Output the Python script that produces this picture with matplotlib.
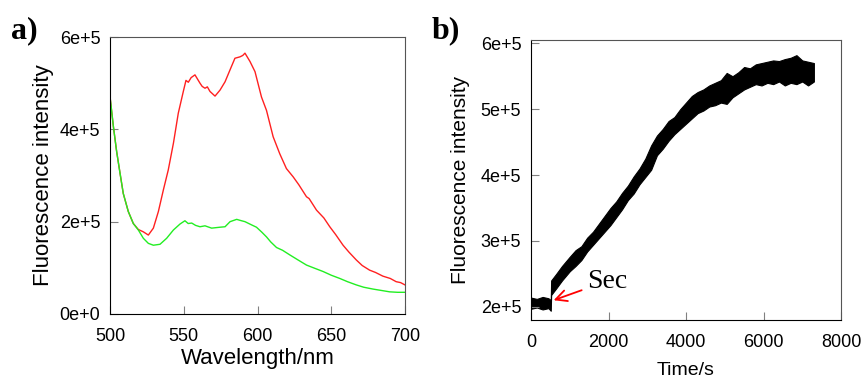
import matplotlib
matplotlib.use('Agg')
import matplotlib.pyplot as plt

# panel a: emission spectra -------------------------------
wl_red = [500, 502.3, 504.5, 506.8, 509, 512.4, 515.8, 519.2, 522.6, 526, 529.4, 532.8, 536.2,
          539.5, 543, 546.3, 549.7, 551.5, 553.1, 555, 557.6, 561, 562.5, 564.4, 566, 567.8,
          571.2, 574.6, 578, 581.4, 584.7, 588.1, 590, 591.5, 594.9, 598.3, 602.7, 606.1,
          610.6, 615.1, 619.6, 624.2, 628, 633.2, 635, 640, 645, 649, 653, 658, 662, 667,
          671, 676, 680, 685, 690, 694, 697, 700]
int_red = [4.71e5, 4.06e5, 3.52e5, 3.05e5, 2.61e5, 2.22e5, 1.96e5, 1.83e5, 1.78e5, 1.71e5,
           1.86e5, 2.22e5, 2.69e5, 3.12e5, 3.70e5, 4.35e5, 4.82e5, 5.06e5, 5.02e5, 5.12e5,
           5.18e5, 5.00e5, 4.93e5, 4.89e5, 4.92e5, 4.82e5, 4.72e5, 4.85e5, 5.03e5, 5.29e5,
           5.54e5, 5.57e5, 5.60e5, 5.65e5, 5.47e5, 5.25e5, 4.70e5, 4.41e5, 3.84e5, 3.47e5,
           3.15e5, 2.97e5, 2.80e5, 2.54e5, 2.50e5, 2.25e5, 2.08e5, 1.89e5, 1.72e5, 1.49e5,
           1.34e5, 1.17e5, 1.05e5, 0.95e5, 0.90e5, 0.82e5, 0.77e5, 0.70e5, 0.68e5, 0.63e5]

wl_green = [500, 502.3, 504.5, 506.8, 509, 512.4, 515.8, 519.2, 522.6, 526, 529.4, 533.9,
            538.4, 543, 547.5, 550.8, 553, 555.4, 558, 561, 564.4, 568.9, 574.6, 578, 581.4,
            585.9, 588, 591.5, 596, 599.3, 603, 606.1, 609, 612.9, 617, 621.9, 627, 633.2,
            638, 644.5, 650, 655.8, 661, 667, 672, 678.3, 684, 689.6, 695, 700]
int_green = [4.71e5, 4.06e5, 3.52e5, 3.05e5, 2.61e5, 2.22e5, 1.96e5, 1.82e5, 1.64e5, 1.53e5,
             1.49e5, 1.51e5, 1.64e5, 1.82e5, 1.95e5, 2.02e5, 1.96e5, 1.97e5, 1.92e5, 1.89e5,
             1.91e5, 1.86e5, 1.88e5, 1.89e5, 2.00e5, 2.05e5, 2.03e5, 2.00e5, 1.93e5, 1.88e5,
             1.77e5, 1.67e5, 1.56e5, 1.44e5, 1.38e5, 1.28e5, 1.18e5, 1.06e5, 1.00e5, 0.92e5,
             0.84e5, 0.77e5, 0.70e5, 0.63e5, 0.58e5, 0.54e5, 0.51e5, 0.48e5, 0.47e5, 0.47e5]

# panel b: time trace, lower and upper edge of the noisy band -------------
t_b = [0, 150, 300, 450, 510, 520, 650, 800, 1000, 1150, 1300, 1450, 1600, 1750, 1900, 2050,
       2200, 2350, 2500, 2650, 2800, 2950, 3100, 3250, 3400, 3550, 3700, 3850, 4000, 4150,
       4300, 4450, 4600, 4750, 4900, 5050, 5200, 5350, 5500, 5650, 5800, 5950, 6100, 6250,
       6400, 6550, 6700, 6850, 7000, 7150, 7300]
f_low = [1.97, 1.99, 1.96, 1.98, 1.94, 2.18, 2.28, 2.40, 2.54, 2.62, 2.71, 2.84, 2.94, 3.04,
         3.14, 3.24, 3.36, 3.48, 3.62, 3.72, 3.86, 3.97, 4.08, 4.30, 4.40, 4.52, 4.62, 4.70,
         4.78, 4.86, 4.94, 4.98, 5.04, 5.06, 5.10, 5.08, 5.18, 5.24, 5.30, 5.34, 5.38, 5.36,
         5.40, 5.38, 5.42, 5.36, 5.40, 5.38, 5.42, 5.36, 5.42]
f_high = [2.14, 2.12, 2.15, 2.13, 2.10, 2.40, 2.50, 2.62, 2.76, 2.86, 2.92, 3.05, 3.14, 3.26,
          3.38, 3.50, 3.60, 3.73, 3.84, 3.98, 4.10, 4.25, 4.45, 4.60, 4.70, 4.82, 4.88, 5.00,
          5.10, 5.20, 5.26, 5.30, 5.36, 5.40, 5.44, 5.55, 5.50, 5.56, 5.64, 5.62, 5.68, 5.70,
          5.72, 5.74, 5.73, 5.76, 5.78, 5.82, 5.74, 5.72, 5.70]

plt.rcParams['font.family'] = ['Liberation Sans', 'DejaVu Sans']

fig = plt.figure(figsize=(8.64, 3.81), dpi=100)
ax1 = fig.add_axes([110/864, 1-314/381, 295/864, 277/381])
ax2 = fig.add_axes([531/864, 1-320/381, 310/864, 280/381])

for ax in (ax1, ax2):
	ax.tick_params(direction='in', length=6, color='#808080', labelsize=13)
	ax.tick_params(axis='x', pad=10)
	ax.tick_params(axis='y', pad=7)
	ax.spines['top'].set_color('#555555')
	ax.spines['right'].set_color('#555555')

ax1.plot(wl_red, int_red, color='#ff2020', lw=1)
ax1.plot(wl_green, int_green, color='#22ee22', lw=1)
ax1.set_xlim(500, 700)
ax1.set_ylim(0, 6e5)
ax1.set_xticks([500, 550, 600, 650, 700])
ax1.set_yticks([0, 2e5, 4e5, 6e5])
ax1.set_yticklabels(['0e+0', '2e+5', '4e+5', '6e+5'])
ax1.set_xlabel('Wavelength/nm', fontsize=16, labelpad=2)
ax1.set_ylabel('Fluorescence intensity', fontsize=16)

ax2.fill_between(t_b, [v*1e5 for v in f_low], [v*1e5 for v in f_high], color='black', lw=0.8,
                 edgecolor='black')
ax2.set_xlim(0, 8000)
ax2.set_ylim(1.8e5, 6.05e5)
ax2.set_xticks([0, 2000, 4000, 6000, 8000])
ax2.set_yticks([2e5, 3e5, 4e5, 5e5, 6e5])
ax2.set_yticklabels(['2e+5', '3e+5', '4e+5', '5e+5', '6e+5'])
ax2.set_xlabel('Time/s', fontsize=14, labelpad=8)
ax2.set_ylabel('Fluorescence intensity', fontsize=15, labelpad=8)
ax2.annotate('Sec', xy=(517, 2.086e5), xytext=(1447, 2.39e5), fontsize=20,
             family='Liberation Serif', va='center', ha='left',
             arrowprops=dict(arrowstyle='->', color='red', lw=1.3))

fig.text(11/864, 1-31/381, 'a)', fontsize=23, fontweight='bold', family='Liberation Serif', va='center')
fig.text(432/864, 1-31/381, 'b)', fontsize=23, fontweight='bold', family='Liberation Serif', va='center')

plt.savefig('out.png', dpi=100)
